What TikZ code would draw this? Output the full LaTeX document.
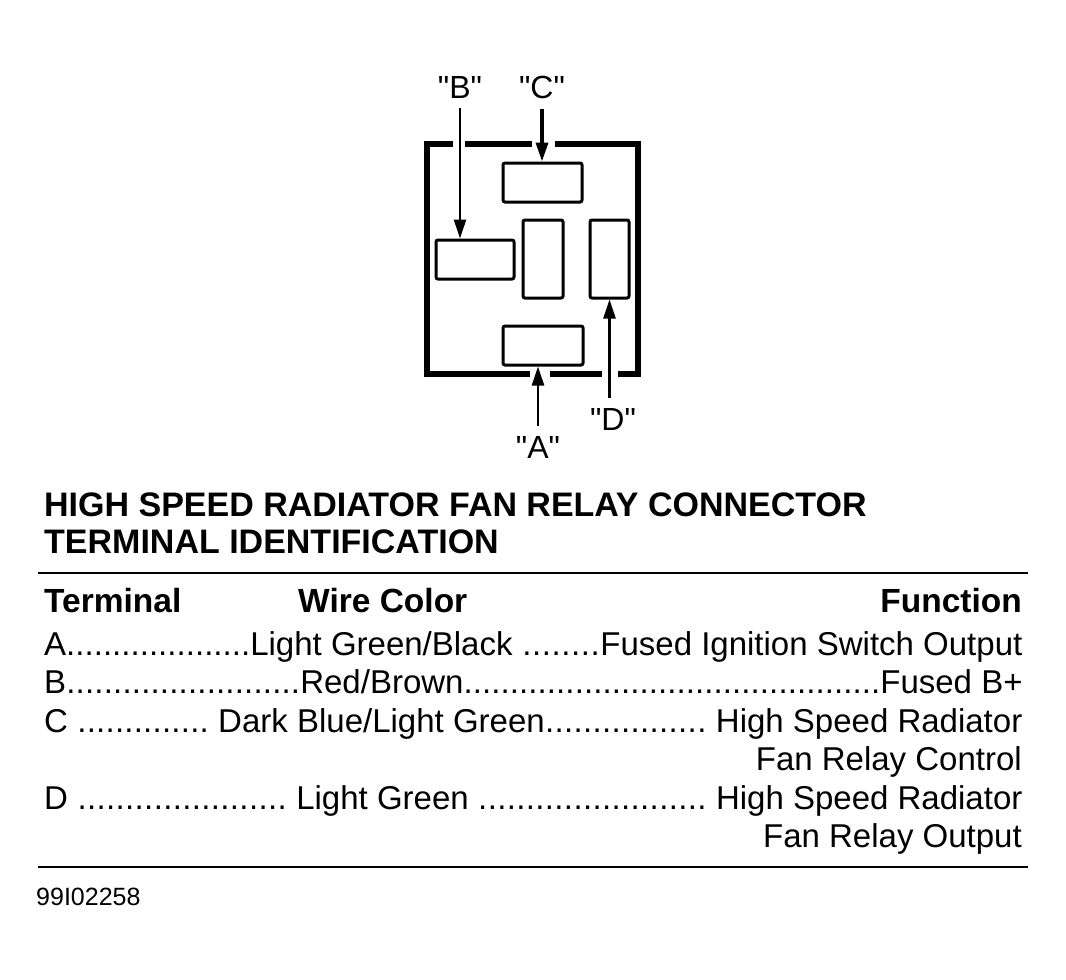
\documentclass[tikz,border=0pt]{standalone}
\usepackage{fontspec}
\setmainfont{Liberation Sans}[Ligatures=TeXOff]
\usepackage{tikz}
\usetikzlibrary{arrows.meta,calc,positioning}
\newcommand{\leaderdots}{\xleaders\hbox{.}\hfill}
\begin{document}
\begin{tikzpicture}[x=1pt,y=-1pt,
    pad/.style={draw,line width=3pt,rounded corners=2pt,inner sep=0pt},
    tag/.style={inner sep=10pt,font=\fontsize{32}{38}\selectfont},
    link/.style={line width=2.5pt,-{Triangle[length=19pt,width=12pt]}},
    wall/.style={line width=5.5pt},
    row/.style={inner sep=0pt,font=\fontsize{33}{40}\selectfont},
    head/.style={inner sep=0pt,font=\fontsize{33.5}{40}\selectfont\bfseries}]
\useasboundingbox (0,0) rectangle (1066,980);
% connector housing
\draw[wall] (453,144) -| (427,374) -- (530,374);
\draw[wall] (465,144) -- (532,144);
\draw[wall] (555,144) -| (638,374) -- (618,374);
\draw[wall] (550,374) -- (602,374);
% terminals
\node[pad,minimum width=79pt,minimum height=39pt] (tC) at (542.5,182.5) {};
\node[pad,minimum width=78pt,minimum height=39pt] (tB) at (475,259.5) {};
\node[pad,minimum width=40pt,minimum height=78pt] (tM) at (543,259) {};
\node[pad,minimum width=39pt,minimum height=78pt] (tD) at (609.5,259) {};
\node[pad,minimum width=80pt,minimum height=39pt] (tA) at (543,345.5) {};
% labels
\node[tag,anchor=base] (lB) at (460,98) {"B"};
\node[tag,anchor=base] (lC) at (542,98) {"C"};
\node[tag,anchor=base] (lD) at (613,430) {"D"};
\node[tag,anchor=base] (lA) at (538,458) {"A"};
\draw[link] (lB.south) -- (lB.south |- tB.north);
\draw[link,line width=3.5pt] (lC.south) -- (lC.south |- tC.north);
\draw[link] (lD.north -| tD.south) -- (tD.south);
\draw[link] (lA.north) -- (lA.north |- tA.south);
% table
\node[head,anchor=base west] (title1) at (44,516) {\fontsize{34}{40}\selectfont HIGH SPEED RADIATOR FAN RELAY CONNECTOR};
\node[head,anchor=base west] (title2) at (44,553) {\fontsize{34}{40}\selectfont TERMINAL IDENTIFICATION};
\draw[line width=2pt] (38,573) -- (1028,573);
\node[head,anchor=base west] (hT) at (44,612) {Terminal};
\node[head,anchor=base west] (hW) at (298,612) {Wire Color};
\node[head,anchor=base east] (hF) at (1022,612) {Function};
\node[row,anchor=base west] (rA) at (44,655) {\hbox to 978pt{\hbox to 206pt{A\leaderdots}Light Green/Black \leaderdots Fused Ignition Switch Output}};
\node[row,anchor=base west] (rB) at (44,693) {\hbox to 978pt{\hbox to 256pt{B\leaderdots}Red/Brown\leaderdots Fused B+}};
\node[row,anchor=base west] (rC) at (44,732) {\hbox to 978pt{\hbox to 174pt{C \leaderdots\ }Dark Blue/Light Green\leaderdots\ High Speed Radiator}};
\node[row,anchor=base east] (rC2) at (1022,770) {Fan Relay Control};
\node[row,anchor=base west] (rD) at (44,809) {\hbox to 978pt{\hbox to 252pt{D \leaderdots\ }Light Green \leaderdots\ High Speed Radiator}};
\node[row,anchor=base east] (rD2) at (1022,847) {Fan Relay Output};
\draw[line width=2pt] (38,867) -- (1028,867);
\node[row,anchor=base west,font=\fontsize{25}{30}\selectfont] (code) at (36,905) {99I02258};
\end{tikzpicture}
\end{document}
